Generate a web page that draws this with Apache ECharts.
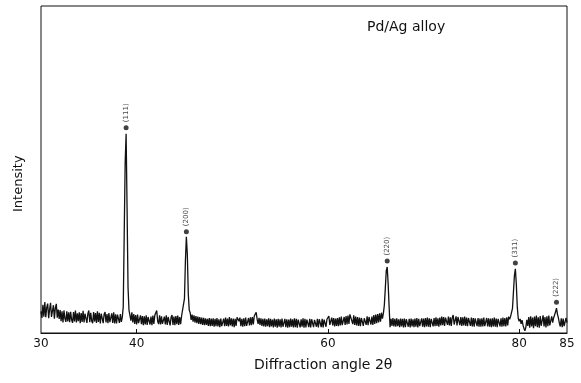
<!DOCTYPE html>
<html>
<head>
<meta charset="utf-8">
<script src="https://cdn.jsdelivr.net/npm/echarts@6/dist/echarts.min.js"></script>
<style>html,body{margin:0;padding:0;background:#fff}#c{width:581px;height:383px}</style>
</head>
<body>
<div id="c"></div>
<script>
// 2-theta grid: start and step of the scan (degrees)
const angleStart = 30.0;
const angleStep = 0.1;
// Intensity, one value per 0.1 degree, 30.0 .. 85.0
const intensity = [
  6.6, 4.6, 8.6, 5.0, 9.5, 4.8, 7.8, 9.0, 4.5, 7.2,
  9.2, 4.9, 6.8, 8.5, 4.4, 7.6, 8.9, 4.7, 7.2, 4.3,
  7.0, 3.6, 6.6, 3.2, 6.9, 4.4, 3.4, 6.6, 3.5, 6.3,
  3.3, 6.5, 4.0, 3.1, 6.4, 3.5, 6.9, 3.2, 6.0, 3.6,
  6.3, 3.0, 6.1, 3.4, 6.8, 3.2, 5.9, 6.5, 3.1, 5.9,
  6.9, 3.3, 6.2, 3.7, 3.0, 6.4, 3.5, 6.1, 3.1, 6.6,
  3.4, 6.2, 2.9, 5.9, 6.5, 3.0, 5.7, 6.4, 3.2, 5.8,
  3.0, 6.1, 3.3, 2.8, 6.0, 3.1, 6.3, 2.9, 5.7, 2.9,
  5.6, 5.9, 3.1, 5.8, 3.4, 4.8, 8.0, 30.0, 52.0, 60.9,
  38.0, 14.0, 7.0, 6.6, 3.8, 6.3, 3.2, 5.8, 2.8, 5.5,
  2.6, 5.6, 3.0, 2.5, 5.4, 2.7, 5.2, 2.4, 5.1, 2.6,
  5.4, 2.5, 4.9, 5.5, 2.6, 5.0, 2.4, 5.3, 2.8, 5.4,
  5.9, 6.9, 3.6, 2.7, 5.4, 2.6, 5.1, 2.8, 2.4, 5.0,
  2.6, 5.4, 2.5, 4.9, 5.3, 2.3, 4.8, 5.5, 2.5, 5.0,
  2.4, 5.2, 2.7, 5.3, 2.5, 4.9, 2.7, 5.2, 4.6, 5.5,
  10.5, 22.0, 29.4, 24.0, 12.0, 7.0, 6.2, 4.0, 5.6, 3.5,
  5.4, 3.2, 5.2, 3.0, 5.0, 2.8, 4.9, 2.7, 4.7, 2.5,
  4.6, 2.4, 4.5, 2.5, 4.3, 2.2, 4.6, 2.1, 4.4, 2.2,
  4.5, 1.9, 4.3, 2.1, 4.6, 2.0, 4.2, 1.8, 4.4, 2.1,
  1.9, 4.4, 2.1, 4.7, 2.2, 4.4, 2.0, 4.9, 2.3, 4.5,
  2.0, 4.4, 1.8, 4.3, 2.2, 4.8, 5.4, 3.6, 4.7, 2.1,
  4.3, 1.9, 4.5, 2.1, 4.7, 2.2, 2.0, 4.6, 2.3, 4.8,
  2.4, 4.9, 2.6, 5.2, 5.7, 6.3, 4.2, 2.8, 4.6, 2.5,
  4.5, 2.2, 4.3, 2.0, 4.4, 1.9, 4.2, 2.1, 4.5, 1.8,
  4.3, 2.0, 4.1, 1.7, 4.4, 1.9, 4.2, 1.6, 4.3, 1.9,
  4.2, 1.7, 4.4, 1.9, 1.6, 4.3, 1.8, 4.2, 1.6, 4.1,
  1.8, 4.4, 1.9, 4.2, 1.7, 4.5, 1.8, 4.3, 1.6, 4.1,
  4.4, 1.7, 4.2, 1.9, 4.5, 1.6, 4.3, 1.7, 4.1, 4.4,
  1.8, 4.3, 1.7, 4.2, 4.6, 1.8, 4.0, 4.4, 1.9, 4.3,
  1.7, 4.2, 4.5, 1.8, 4.3, 1.7, 4.1, 4.6, 1.9, 4.2,
  4.7, 5.2, 2.5, 2.1, 4.7, 2.3, 4.6, 2.0, 4.4, 2.2,
  4.6, 2.1, 4.8, 2.3, 5.0, 2.4, 2.2, 4.9, 2.5, 5.2,
  2.6, 5.3, 2.8, 5.7, 6.1, 5.2, 2.7, 5.4, 2.5, 5.0,
  2.3, 4.9, 2.2, 4.7, 2.1, 4.6, 4.8, 2.2, 4.5, 5.0,
  2.5, 5.1, 2.4, 4.9, 5.4, 2.6, 5.0, 2.5, 5.5, 2.8,
  5.6, 3.0, 5.8, 3.2, 6.0, 3.5, 6.2, 4.4, 6.0, 8.5,
  13.5, 19.0, 20.2, 15.0, 8.0, 1.8, 4.3, 2.2, 4.6, 2.0,
  4.3, 1.9, 4.5, 2.1, 4.2, 1.8, 4.4, 2.0, 4.3, 1.7,
  4.4, 1.8, 4.2, 4.5, 1.9, 4.3, 1.7, 4.4, 2.0, 4.2,
  1.8, 4.4, 1.9, 4.6, 1.7, 4.3, 2.1, 1.8, 4.5, 1.9,
  4.4, 1.8, 4.6, 2.0, 4.7, 1.9, 4.5, 1.8, 4.3, 4.7,
  2.0, 4.6, 2.1, 4.8, 2.2, 4.5, 1.9, 4.7, 2.3, 5.0,
  2.4, 4.9, 2.2, 4.7, 5.3, 2.5, 5.0, 2.3, 4.8, 2.2,
  4.7, 5.5, 2.6, 2.4, 5.1, 2.3, 4.9, 5.2, 2.4, 4.9,
  2.2, 4.8, 2.3, 5.0, 2.2, 4.7, 2.1, 4.6, 4.9, 2.2,
  4.7, 2.0, 4.6, 1.9, 4.5, 4.8, 2.1, 4.6, 1.9, 4.4,
  1.9, 4.5, 2.0, 4.7, 2.1, 1.8, 4.6, 2.0, 4.5, 1.9,
  4.4, 1.8, 4.5, 2.0, 4.7, 1.9, 4.4, 1.8, 4.3, 4.6,
  2.0, 4.5, 1.9, 4.7, 2.1, 4.6, 2.0, 4.8, 2.3, 5.0,
  4.2, 5.0, 5.5, 7.5, 12.5, 17.5, 19.6, 15.0, 8.0, 4.5,
  3.6, 4.3, 2.8, 3.9, 2.4, 1.4, 0.7, 1.8, 4.0, 2.2,
  4.9, 1.6, 5.1, 2.0, 4.7, 1.5, 5.0, 2.1, 5.3, 1.8,
  4.8, 1.6, 5.2, 2.2, 1.7, 5.4, 2.0, 4.9, 1.7, 5.1,
  2.1, 5.3, 2.3, 1.9, 5.1, 3.2, 4.6, 4.9, 6.4, 7.6,
  5.8, 4.6, 3.0, 2.0, 4.5, 1.8, 4.4, 2.1, 1.7, 4.6,
  3.2
];
// Reflection markers (dot above each peak)
const peakLabels = ['(111)', '(200)', '(220)', '(311)', '(222)'];
const peakAngles = [38.9, 45.2, 66.2, 79.6, 83.9];
const peakMarkHeights = [62.8, 31.0, 22.0, 21.4, 9.4];
// Axis tick labels
const tickLabels = [30, 40, 60, 80, 85];
const tickMarks = [40, 60, 80];

const traceData = intensity.map((v, i) => [+(angleStart + i * angleStep).toFixed(1), v]);
const markData = peakAngles.map((a, i) => ({ value: [a, peakMarkHeights[i]], label: { formatter: peakLabels[i] } }));

const FONT = 'DejaVu Sans';
const chart = echarts.init(document.getElementById('c'), null, { renderer: 'canvas' });
chart.setOption({
  animation: false,
  backgroundColor: '#fff',
  grid: { left: 41, right: 14, top: 6, bottom: 50, show: true, borderColor: '#111', borderWidth: 1, backgroundColor: 'transparent' },
  xAxis: {
    type: 'value', min: 30, max: 85,
    axisLine: { show: true, lineStyle: { color: '#111', width: 1 } },
    axisTick: { show: true, inside: true, length: 4, customValues: tickMarks, lineStyle: { color: '#111' } },
    axisLabel: { show: true, customValues: tickLabels, color: '#111', fontFamily: FONT, fontSize: 12, margin: 5 },
    splitLine: { show: false }
  },
  yAxis: {
    type: 'value', min: 0, max: 100,
    axisLine: { show: false }, axisTick: { show: false }, axisLabel: { show: false }, splitLine: { show: false }
  },
  graphic: [
    { type: 'text', left: 367, top: 20, style: { text: 'Pd/Ag alloy', font: '14px "DejaVu Sans"', fill: '#111' } },
    { type: 'text', left: 254, top: 358, style: { text: 'Diffraction angle 2θ', font: '14px "DejaVu Sans"', fill: '#111' } },
    { type: 'text', x: 12, y: 212, rotation: Math.PI / 2, style: { text: 'Intensity', font: '13px "DejaVu Sans"', fill: '#111' } }
  ],
  series: [
    {
      type: 'line', data: traceData, showSymbol: false, symbol: 'none',
      lineStyle: { color: '#111', width: 1.3 }, silent: true
    },
    {
      type: 'scatter', data: markData, symbol: 'circle', symbolSize: 5,
      itemStyle: { color: '#111' }, silent: true,
      label: { show: true, position: 'top', distance: 3, rotate: 90, align: 'left', verticalAlign: 'middle', fontSize: 7, fontFamily: FONT, color: '#111' }
    }
  ]
});
</script>
</body>
</html>
